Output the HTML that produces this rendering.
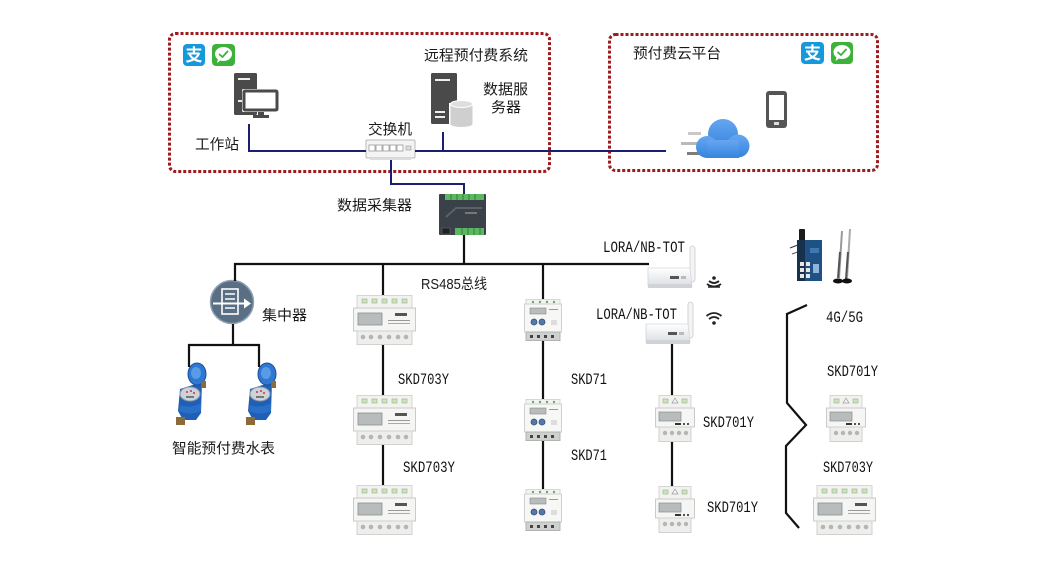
<!DOCTYPE html>
<html><head><meta charset="utf-8">
<style>
html,body{margin:0;padding:0;background:#fff;}
svg{display:block;}
.cn{font-family:"Liberation Sans","Noto Sans CJK SC",sans-serif;font-size:14.5px;fill:#1a1a1a;}
.mo{font-family:"Liberation Mono","DejaVu Sans Mono",monospace;font-size:15.5px;fill:#111;}
</style></head>
<body>
<svg width="1040" height="570" viewBox="0 0 1040 570" xmlns="http://www.w3.org/2000/svg">
<defs>
  <linearGradient id="cg" x1="0" y1="0" x2="0" y2="1">
    <stop offset="0" stop-color="#66a6f0"/><stop offset="1" stop-color="#3584df"/>
  </linearGradient>
  <linearGradient id="rg" x1="0" y1="0" x2="0" y2="1">
    <stop offset="0" stop-color="#ffffff"/><stop offset="1" stop-color="#dcdfe3"/>
  </linearGradient>
  <!-- 3-phase meter 63x50 -->
  <g id="m3">
    <rect x="4" y="0.5" width="55" height="14" fill="#f2f3f1" stroke="#d4d6d3"/>
    <rect x="9" y="4" width="5" height="4" fill="#cfe2c0" stroke="#9dbb8c" stroke-width="0.7"/>
    <rect x="19" y="4" width="5" height="4" fill="#cfe2c0" stroke="#9dbb8c" stroke-width="0.7"/>
    <rect x="29" y="4" width="5" height="4" fill="#cfe2c0" stroke="#9dbb8c" stroke-width="0.7"/>
    <rect x="39" y="4" width="5" height="4" fill="#cfe2c0" stroke="#9dbb8c" stroke-width="0.7"/>
    <rect x="49" y="4" width="5" height="4" fill="#cfe2c0" stroke="#9dbb8c" stroke-width="0.7"/>
    <rect x="0.5" y="13" width="62" height="23" fill="#f5f5f3" stroke="#c9cbc8"/>
    <rect x="5" y="18" width="24" height="12" fill="#b8bcbc" stroke="#8a8e8e" stroke-width="0.8"/>
    <rect x="42" y="18" width="12" height="3" fill="#555"/>
    <rect x="35" y="25" width="22" height="1" fill="#999"/>
    <rect x="35" y="28" width="22" height="1" fill="#aaa"/>
    <rect x="4" y="36" width="55" height="13.5" fill="#eeeeec" stroke="#d0d2cf"/>
    <circle cx="10" cy="42" r="2.3" fill="#b5b5b5"/><circle cx="18" cy="42" r="2.3" fill="#b5b5b5"/>
    <circle cx="27" cy="42" r="2.3" fill="#b5b5b5"/><circle cx="36" cy="42" r="2.3" fill="#b5b5b5"/>
    <circle cx="45" cy="42" r="2.3" fill="#b5b5b5"/><circle cx="53" cy="42" r="2.3" fill="#b5b5b5"/>
  </g>
  <!-- single-phase small meter 38x42 -->
  <g id="m1">
    <rect x="2" y="0.5" width="34" height="5" fill="#f3f4f1" stroke="#d5d7d4"/>
    <circle cx="9" cy="3" r="1.2" fill="#6aa86a"/><circle cx="16" cy="3" r="1.2" fill="#6aa86a"/>
    <circle cx="23" cy="3" r="1.2" fill="#6aa86a"/><circle cx="30" cy="3" r="1.2" fill="#6aa86a"/>
    <rect x="0.5" y="5" width="37" height="28" fill="#f7f7f5" stroke="#cfd1ce"/>
    <rect x="6" y="9" width="16" height="6" fill="#b8bcbc" stroke="#888" stroke-width="0.6"/>
    <rect x="25" y="10" width="9" height="1" fill="#999"/>
    <circle cx="10" cy="23" r="3" fill="#5577aa" stroke="#33507d" stroke-width="0.8"/>
    <circle cx="18" cy="23" r="3" fill="#5577aa" stroke="#33507d" stroke-width="0.8"/>
    <rect x="27" y="21" width="6" height="5" fill="#ddd"/>
    <rect x="2" y="33" width="34" height="8.5" fill="#cfd1cf" stroke="#b2b4b1"/>
    <rect x="6" y="36" width="3" height="3" fill="#444"/><rect x="13" y="36" width="3" height="3" fill="#444"/>
    <rect x="20" y="36" width="3" height="3" fill="#444"/><rect x="27" y="36" width="3" height="3" fill="#444"/>
  </g>
  <!-- SKD701Y meter 40x47 -->
  <g id="m7">
    <rect x="4" y="0.5" width="32" height="13" fill="#f2f3f1" stroke="#d4d6d3"/>
    <rect x="8" y="4" width="5" height="4" fill="#cfe2c0" stroke="#9dbb8c" stroke-width="0.7"/>
    <path d="M20 3 L23 8 L17 8 Z" fill="none" stroke="#999" stroke-width="0.7"/>
    <rect x="27" y="4" width="5" height="4" fill="#cfe2c0" stroke="#9dbb8c" stroke-width="0.7"/>
    <rect x="0.5" y="13" width="39" height="19" fill="#f5f5f3" stroke="#c9cbc8"/>
    <rect x="4" y="17" width="22" height="9" fill="#b8bcbc" stroke="#8a8e8e" stroke-width="0.7"/>
    <rect x="20" y="28" width="6" height="2" fill="#333"/><rect x="28" y="28" width="2" height="2" fill="#555"/><rect x="32" y="28" width="2" height="2" fill="#555"/>
    <rect x="4" y="32" width="32" height="14.5" fill="#eeeeec" stroke="#d0d2cf"/>
    <circle cx="10" cy="38" r="2.2" fill="#b5b5b5"/><circle cx="17" cy="38" r="2.2" fill="#b5b5b5"/>
    <circle cx="24" cy="38" r="2.2" fill="#b5b5b5"/><circle cx="31" cy="38" r="2.2" fill="#b5b5b5"/>
  </g>
  <!-- water meter 34x62 -->
  <g id="wm">
    <path d="M6 26 L28 19 L27 50 L22 57 L9 57 L4 48 Z" fill="#1f5fb5"/>
    <ellipse cx="23" cy="11" rx="9" ry="11" fill="#2f78d2" stroke="#1a4f9c" stroke-width="1"/>
    <ellipse cx="22" cy="10" rx="5" ry="6" fill="#5a9be6"/>
    <ellipse cx="16" cy="31" rx="10" ry="7" fill="#cdd3da" stroke="#8a95a3" stroke-width="1"/>
    <circle cx="13" cy="29" r="1" fill="#c33"/><circle cx="17" cy="28" r="1" fill="#c33"/><circle cx="20" cy="30" r="1" fill="#c33"/>
    <rect x="12" y="33" width="8" height="2" fill="#777"/>
    <path d="M6 42 Q16 46 27 40 L27 48 Q16 53 5 48 Z" fill="#2a6fc7"/>
    <rect x="2" y="54" width="9" height="8" fill="#8c6b3b"/>
    <rect x="27" y="18" width="5" height="7" fill="#8c6b3b"/>
  </g>
  <!-- router 48x43 -->
  <g id="rt">
    <rect x="42" y="0" width="5" height="36" rx="2.5" fill="#f4f4f4" stroke="#ccc" stroke-width="0.8"/>
    <path d="M0 22 L42 22 L44 40 L0 40 Z" fill="url(#rg)" stroke="#d3d6da" stroke-width="0.8"/>
    <rect x="0" y="38" width="44" height="4" fill="#cfd3d8"/>
    <rect x="22" y="30" width="9" height="3" fill="#555"/><rect x="33" y="30" width="5" height="3" fill="#bbb"/>
  </g>
</defs>

<!-- dotted boxes -->
<rect x="169.5" y="33.5" width="380" height="138" rx="6" fill="none" stroke="#9e1a1c" stroke-width="3" stroke-dasharray="3 2"/>
<rect x="609.5" y="34.5" width="268" height="136" rx="6" fill="none" stroke="#9e1a1c" stroke-width="3" stroke-dasharray="3 2"/>

<!-- payment icons left -->
<rect x="183" y="44" width="22" height="22" rx="4" fill="#1598dc"/>
<text x="194" y="61" text-anchor="middle" style="font-family:'Noto Sans CJK SC',sans-serif;font-size:17px;fill:#fff;font-weight:bold;">支</text>
<rect x="212" y="44" width="23" height="22" rx="4" fill="#3db23a"/>
<ellipse cx="223.5" cy="54" rx="8.5" ry="7" fill="#fff"/>
<path d="M218 59 L217 63 L221 60 Z" fill="#fff"/>
<path d="M219 54 L222.5 57 L228 51" fill="none" stroke="#3db23a" stroke-width="1.8"/>
<!-- payment icons right -->
<rect x="801" y="42" width="23" height="22" rx="4" fill="#1598dc"/>
<text x="812.5" y="59" text-anchor="middle" style="font-family:'Noto Sans CJK SC',sans-serif;font-size:17px;fill:#fff;font-weight:bold;">支</text>
<rect x="831" y="42" width="22" height="22" rx="4" fill="#3db23a"/>
<ellipse cx="842" cy="52" rx="8.5" ry="7" fill="#fff"/>
<path d="M836.5 57 L835.5 61 L839.5 58 Z" fill="#fff"/>
<path d="M837.5 52 L841 55 L846.5 49" fill="none" stroke="#3db23a" stroke-width="1.8"/>

<!-- workstation -->
<rect x="234" y="73" width="23" height="42" rx="1.5" fill="#4a4a4a"/>
<rect x="238" y="78" width="12" height="2" fill="#eee"/>
<rect x="238" y="100" width="6" height="2" fill="#eee"/>
<rect x="242" y="89" width="37" height="23" rx="1.5" fill="#fff"/>
<rect x="244" y="91" width="33" height="19" rx="1" fill="#fff" stroke="#4a4a4a" stroke-width="3"/>
<rect x="258" y="112" width="6" height="4" fill="#4a4a4a"/>
<rect x="253" y="115" width="16" height="3" fill="#4a4a4a"/>

<!-- server + db -->
<rect x="431" y="73" width="26" height="51" rx="1.5" fill="#4a4a4a"/>
<rect x="435" y="79" width="15" height="2" fill="#eee"/>
<rect x="435" y="111" width="10" height="2" fill="#eee"/>
<rect x="435" y="116" width="10" height="2" fill="#eee"/>
<path d="M449 103 L449 124 A12 3.5 0 0 0 473 124 L473 103 Z" fill="#fff"/>
<path d="M450.5 104 L450.5 124 A11 3 0 0 0 472.5 124 L472.5 104 Z" fill="#cfcfcf"/>
<ellipse cx="461.5" cy="104" rx="11" ry="3.5" fill="#dedede" stroke="#fff" stroke-width="1"/>

<!-- switch -->
<rect x="366" y="140" width="49" height="18" rx="1.5" fill="#f4f4f4" stroke="#b8b8b8"/>
<rect x="369" y="145" width="6" height="6" fill="#fff" stroke="#999" stroke-width="0.8"/>
<rect x="376" y="145" width="6" height="6" fill="#fff" stroke="#999" stroke-width="0.8"/>
<rect x="383" y="145" width="6" height="6" fill="#fff" stroke="#999" stroke-width="0.8"/>
<rect x="390" y="145" width="6" height="6" fill="#fff" stroke="#999" stroke-width="0.8"/>
<rect x="397" y="145" width="6" height="6" fill="#fff" stroke="#999" stroke-width="0.8"/>
<rect x="406" y="146" width="5" height="4" fill="#ddd" stroke="#999" stroke-width="0.6"/>
<rect x="370" y="158" width="41" height="2" fill="#ddd"/>

<!-- phone -->
<rect x="766" y="91" width="21" height="37" rx="3" fill="#555"/>
<rect x="769" y="95" width="15" height="25" fill="#fff"/>
<rect x="774" y="122" width="5" height="3" fill="#ddd"/>

<!-- cloud -->
<rect x="688" y="132" width="13" height="3" fill="#c8c8c8"/>
<rect x="681" y="142" width="17" height="3" fill="#b9b9b9"/>
<rect x="687" y="152" width="14" height="3" fill="#7d7d7d"/>
<g fill="url(#cg)">
  <circle cx="723" cy="134" r="15"/>
  <circle cx="707" cy="147" r="11"/>
  <circle cx="738" cy="146" r="11.5"/>
  <rect x="707" y="140" width="32" height="18"/>
</g>

<!-- data collector -->
<rect x="439" y="194" width="47" height="41" rx="1" fill="#3b4148"/>
<rect x="445" y="194" width="39" height="6" fill="#5cb860"/>
<rect x="455" y="228" width="29" height="7" fill="#5cb860"/>
<path d="M451 194v6M457 194v6M463 194v6M469 194v6M475 194v6M462 228v7M468 228v7M474 228v7M480 228v7" stroke="#2f6b32" stroke-width="0.8"/>
<path d="M446 217 L456 208 L482 208" fill="none" stroke="#5a6169" stroke-width="2"/>
<rect x="465" y="212" width="12" height="2" fill="#777"/>
<rect x="442" y="228" width="8" height="6" fill="#222" stroke="#666" stroke-width="0.6"/>

<!-- concentrator -->
<circle cx="232" cy="302" r="21.5" fill="#5b6f84" stroke="#8fa1b2" stroke-width="1.5"/>
<rect x="222" y="289" width="16" height="25" fill="none" stroke="#fff" stroke-width="1.6"/>
<path d="M225 294h10M225 299h10M225 308h10" stroke="#fff" stroke-width="1.6"/>
<path d="M213 303.5 H245" stroke="#fff" stroke-width="2"/>
<path d="M244 298.5 L251 303.5 L244 308.5 Z" fill="#fff"/>

<!-- water meters -->
<use href="#wm" x="174" y="363"/>
<use href="#wm" x="244" y="363"/>

<!-- meters -->
<use href="#m3" x="353" y="295"/>
<use href="#m3" x="353" y="395"/>
<use href="#m3" x="353" y="485"/>
<use href="#m1" x="524" y="299"/>
<use href="#m1" x="524" y="399"/>
<use href="#m1" x="524" y="489"/>
<use href="#m7" x="655" y="395"/>
<use href="#m7" x="655" y="486"/>
<use href="#m7" x="826" y="395"/>
<use href="#m3" x="813" y="485"/>

<!-- routers -->
<use href="#rt" x="648" y="246"/>
<use href="#rt" x="646" y="302"/>

<!-- signal icons -->
<g fill="#222" stroke="#222">
  <circle cx="714" cy="278" r="1.8" stroke="none"/>
  <path d="M709 281 Q714 285 719 281" fill="none" stroke-width="1.8"/>
  <path d="M707 284 Q714 289 721 284" fill="none" stroke-width="1.8"/>
  <path d="M708 287 L720 287" stroke-width="1.5"/>
</g>
<g fill="none" stroke="#222" stroke-width="1.8">
  <path d="M706.5 316 Q714 310 721.5 316"/>
  <path d="M709 319 Q714 315 719 319"/>
  <circle cx="714" cy="323" r="1.8" fill="#222" stroke="none"/>
</g>

<!-- gateway -->
<rect x="799" y="229" width="6" height="16" rx="1" fill="#1c1c1c"/>
<path d="M790 248 L803 243" stroke="#333" stroke-width="1"/>
<path d="M792 254 L803 250" stroke="#555" stroke-width="1"/>
<rect x="797" y="240" width="25" height="41" fill="#1f5185"/>
<rect x="797" y="240" width="8" height="41" fill="#17304d"/>
<rect x="810" y="248" width="9" height="5" fill="#3f78b5"/>
<rect x="800" y="262" width="4" height="4" fill="#e6e6e6"/><rect x="806" y="262" width="4" height="4" fill="#e6e6e6"/>
<rect x="800" y="268" width="4" height="4" fill="#e6e6e6"/><rect x="806" y="268" width="4" height="4" fill="#e6e6e6"/>
<rect x="800" y="274" width="4" height="4" fill="#e6e6e6"/><rect x="806" y="274" width="4" height="4" fill="#e6e6e6"/>
<rect x="813" y="264" width="6" height="9" fill="#8fb4dc"/>
<path d="M842 231 L839 278" stroke="#999" stroke-width="2"/>
<path d="M850 229 L847 279" stroke="#aaa" stroke-width="2"/>
<path d="M840 252 L838 278" stroke="#555" stroke-width="2"/>
<path d="M848 252 L846 279" stroke="#555" stroke-width="2"/>
<ellipse cx="838" cy="281" rx="5" ry="2.5" fill="#111"/>
<ellipse cx="847" cy="281" rx="5" ry="2.5" fill="#111"/>

<!-- blue connectors -->
<g fill="none" stroke="#1b1f70" stroke-width="2">
  <path d="M249 124 V151 H366"/>
  <path d="M415 151 H666"/>
  <path d="M443 132 V151"/>
  <path d="M391 160 V184 H464 V194"/>
</g>

<!-- black connectors -->
<g fill="none" stroke="#111" stroke-width="2.2">
  <path d="M464 235 V264"/>
  <path d="M235 281 V264 H649"/>
  <path d="M383 264 V295 M383 345 V395 M383 445 V485"/>
  <path d="M543 264 V299 M543 341 V399 M543 441 V489"/>
  <path d="M672 344 V395 M672 442 V486"/>
  <path d="M233 324 V345 M189 367 V345 H259 V367"/>
  <path d="M807 305 L787 314 V403 L806 425 L786 446 V513 L799 528"/>
</g>

<!-- Chinese labels -->
<text class="cn" x="424" y="60.5" textLength="104" lengthAdjust="spacingAndGlyphs">远程预付费系统</text>
<text class="cn" x="483" y="94.5" textLength="45" lengthAdjust="spacingAndGlyphs">数据服</text>
<text class="cn" x="491" y="112.5" textLength="30" lengthAdjust="spacingAndGlyphs">务器</text>
<text class="cn" x="368" y="134.5" textLength="44" lengthAdjust="spacingAndGlyphs">交换机</text>
<text class="cn" x="195" y="149.5" textLength="44" lengthAdjust="spacingAndGlyphs">工作站</text>
<text class="cn" x="633" y="58.5" textLength="88" lengthAdjust="spacingAndGlyphs">预付费云平台</text>
<text class="cn" x="337" y="210.5" textLength="75" lengthAdjust="spacingAndGlyphs">数据采集器</text>
<text class="cn" x="262" y="320.5" textLength="45" lengthAdjust="spacingAndGlyphs">集中器</text>
<text class="cn" x="172" y="453.5" textLength="103" lengthAdjust="spacingAndGlyphs">智能预付费水表</text>
<text class="cn" x="421" y="289" textLength="66" lengthAdjust="spacingAndGlyphs">RS485总线</text>

<!-- model labels -->
<text class="mo" x="398" y="384" textLength="51" lengthAdjust="spacingAndGlyphs">SKD703Y</text>
<text class="mo" x="403" y="472" textLength="52" lengthAdjust="spacingAndGlyphs">SKD703Y</text>
<text class="mo" x="571" y="384" textLength="36" lengthAdjust="spacingAndGlyphs">SKD71</text>
<text class="mo" x="571" y="460" textLength="36" lengthAdjust="spacingAndGlyphs">SKD71</text>
<text class="mo" x="703" y="427" textLength="51" lengthAdjust="spacingAndGlyphs">SKD701Y</text>
<text class="mo" x="707" y="512" textLength="51" lengthAdjust="spacingAndGlyphs">SKD701Y</text>
<text class="mo" x="827" y="376" textLength="51" lengthAdjust="spacingAndGlyphs">SKD701Y</text>
<text class="mo" x="823" y="472" textLength="50" lengthAdjust="spacingAndGlyphs">SKD703Y</text>
<text class="mo" x="603" y="252" textLength="82" lengthAdjust="spacingAndGlyphs">LORA/NB-TOT</text>
<text class="mo" x="596" y="319" textLength="81" lengthAdjust="spacingAndGlyphs">LORA/NB-TOT</text>
<text class="mo" x="826" y="322" textLength="37" lengthAdjust="spacingAndGlyphs">4G/5G</text>
</svg>
</body></html>
